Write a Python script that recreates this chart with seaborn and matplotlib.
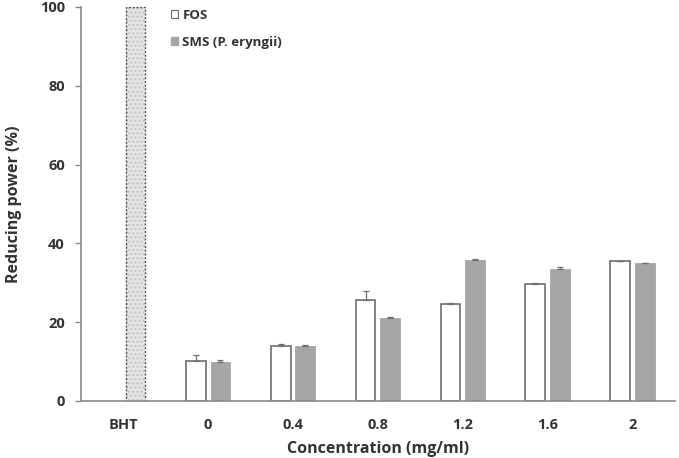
import numpy as np
import pandas as pd
import seaborn as sns
import matplotlib.pyplot as plt

# Reducing power of FOS vs SMS (P. eryngii), BHT as reference
categories = ['BHT', '0', '0.4', '0.8', '1.2', '1.6', '2']
fos = [np.nan, 10.2, 14.0, 25.6, 24.7, 29.6, 35.5]
fos_err = [0, 1.5, 0.4, 2.3, 0.1, 0.4, 0.1]
sms = [100.0, 9.9, 13.9, 21.1, 35.7, 33.6, 34.9]
sms_err = [0, 0.6, 0.3, 0.2, 0.3, 0.4, 0.1]
series = ['FOS', 'SMS (P. eryngii)']

df = pd.DataFrame({
    'conc': categories * 2,
    'value': fos + sms,
    'err': fos_err + sms_err,
    'series': [series[0]] * len(categories) + [series[1]] * len(categories),
})

sns.set_style('white')
plt.rcParams['font.family'] = ['Open Sans', 'DejaVu Sans']
plt.rcParams['font.weight'] = 'bold'

fig = plt.figure(figsize=(6.79, 4.58), dpi=100)
ax = fig.add_axes([0.119, 0.1245, 0.875, 0.8605])

sns.barplot(data=df, x='conc', y='value', hue='series', order=categories,
            hue_order=series, palette=['white', '#a6a6a6'], width=0.58, gap=0.2,
            errorbar=None, legend=False, ax=ax)

edge = '#6e6e6e'
for bar in ax.containers[0]:
    bar.set_edgecolor(edge)
    bar.set_linewidth(1.2)
for bar in ax.containers[1]:
    bar.set_edgecolor('#a6a6a6')
    bar.set_linewidth(0.6)

# BHT reference bar: light dotted fill with a dotted dark outline
bht = max(ax.containers[1], key=lambda b: b.get_height())
bht.set_facecolor('#e4e4e4')
bht.set_edgecolor('#c2c2c2')
bht.set_hatch('....')
bht.set_linewidth(0)
ax.add_patch(plt.Rectangle((bht.get_x(), 0), bht.get_width(), bht.get_height(),
                           fill=False, edgecolor='#555555', linewidth=1.0,
                           linestyle=(0, (1.5, 1.2)), zorder=bht.get_zorder() + 0.1))

# one-sided error bars, matched to category by bar position
for cont, name in zip(ax.containers, series):
    sub = df[df.series == name].set_index('conc')
    for bar in cont:
        h = bar.get_height()
        xc = bar.get_x() + bar.get_width() / 2
        cat = categories[int(round(xc))]
        e = sub.loc[cat, 'err']
        if np.isnan(h) or e <= 0:
            continue
        ax.errorbar(xc, h, yerr=[[0], [e]], fmt='none', ecolor=edge,
                    elinewidth=0.9, capsize=2, capthick=0.9)

ax.set_xlim(-0.5, 6.5)
ax.set_ylim(0, 100)
ax.set_yticks([0, 20, 40, 60, 80, 100])
sns.despine(ax=ax)
for s in ['left', 'bottom']:
    ax.spines[s].set_color('#8a8a8a')
    ax.spines[s].set_linewidth(1.2)
ax.tick_params(axis='y', direction='out', length=4.5, width=1.0, color='#8a8a8a',
               pad=7, labelsize=10.5, left=True)
ax.tick_params(axis='x', length=0, pad=12, labelsize=10.5)
for lab in ax.get_xticklabels() + ax.get_yticklabels():
    lab.set_fontweight('bold')
    lab.set_color('#333333')

ax.set_xlabel('Concentration (mg/ml)', fontsize=11.5, fontweight='bold', color='#333333', labelpad=7)
ax.set_ylabel('Reducing power (%)', fontsize=11.5, fontweight='bold', color='#333333', labelpad=13)

handles = [plt.Rectangle((0, 0), 1, 1, facecolor='white', edgecolor=edge, linewidth=0.8),
           plt.Rectangle((0, 0), 1, 1, facecolor='#a6a6a6', edgecolor='#a6a6a6')]
ax.legend(handles, series, loc='upper left', bbox_to_anchor=(0.132, 1.025), frameon=False,
          handlelength=0.5, handleheight=0.5, handletextpad=0.35, labelspacing=1.05,
          prop={'size': 9.5, 'weight': 'bold'}, labelcolor='#333333')

fig.savefig('out.png', dpi=100)
